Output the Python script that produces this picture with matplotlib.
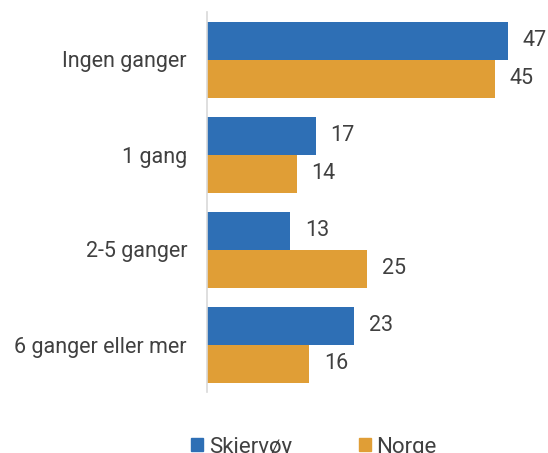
import matplotlib.pyplot as plt
import numpy as np
from matplotlib.patches import Patch

categories = ["Ingen ganger", "1 gang", "2-5 ganger", "6 ganger eller mer"]
skjervoy = [47, 17, 13, 23]
norge = [45, 14, 25, 16]
series_names = ["Skjervøy", "Norge"]

blue = "#2E6FB5"
orange = "#E09E36"
text_color = "#404040"

plt.rcParams['font.family'] = ['Roboto', 'DejaVu Sans']

fig = plt.figure(figsize=(5.48, 4.53), dpi=100)
ax = fig.add_axes([207 / 548, 1 - 392 / 453, (548 - 207) / 548, 380 / 453])

y = np.arange(len(categories))
h = 0.4
ax.barh(y - h / 2, skjervoy, height=h, color=blue)
ax.barh(y + h / 2, norge, height=h, color=orange)

for i in range(len(categories)):
    ax.text(skjervoy[i] + 2.3, y[i] - h / 2, str(skjervoy[i]), va='center',
            ha='left', fontsize=15.5, color=text_color)
    ax.text(norge[i] + 2.3, y[i] + h / 2, str(norge[i]), va='center',
            ha='left', fontsize=15.5, color=text_color)

ax.set_xlim(0, 341 / 6.4)
ax.set_ylim(len(categories) - 0.5, -0.5)
ax.set_yticks(y)
ax.set_yticklabels(categories, fontsize=15.5, color=text_color)
ax.tick_params(axis='y', length=0, pad=14.4)
ax.set_xticks([])
for s in ['top', 'right', 'bottom']:
    ax.spines[s].set_visible(False)
ax.spines['left'].set_color('#D9D9D9')
ax.spines['left'].set_linewidth(1.2)

handles = [Patch(color=blue), Patch(color=orange)]
fig.legend(handles, series_names, loc='center', bbox_to_anchor=(314 / 548, 1 - 447 / 453),
           ncol=2, frameon=False, fontsize=16, handlelength=0.55, handleheight=0.55,
           handletextpad=0.25, columnspacing=3.0, labelcolor=text_color,
           borderpad=0)

fig.savefig("out.png", dpi=100)
